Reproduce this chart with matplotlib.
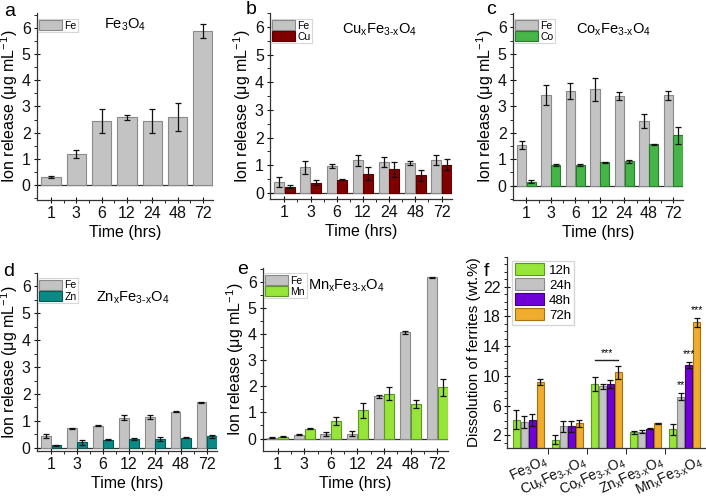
import numpy as np
import matplotlib
matplotlib.use("Agg")
import matplotlib.pyplot as plt
from matplotlib.ticker import MultipleLocator, FixedLocator

plt.rcParams['font.family'] = ['Liberation Sans', 'DejaVu Sans']
plt.rcParams['mathtext.fontset'] = 'custom'
plt.rcParams['mathtext.rm'] = 'Liberation Sans'
plt.rcParams['mathtext.it'] = 'Liberation Sans'

times = ["1", "3", "6", "12", "24", "48", "72"]

fe_a = [0.30, 1.20, 2.45, 2.58, 2.45, 2.60, 5.87]
fe_a_err = [0.03, 0.15, 0.45, 0.10, 0.45, 0.53, 0.27]

fe_b = [0.40, 0.92, 0.97, 1.18, 1.12, 1.07, 1.18]
fe_b_err = [0.17, 0.22, 0.08, 0.20, 0.17, 0.07, 0.18]
cu_b = [0.22, 0.37, 0.47, 0.70, 0.85, 0.64, 1.02]
cu_b_err = [0.06, 0.10, 0.02, 0.25, 0.28, 0.20, 0.20]

fe_c = [1.55, 3.42, 3.58, 3.65, 3.40, 2.45, 3.43]
fe_c_err = [0.15, 0.38, 0.30, 0.45, 0.15, 0.25, 0.17]
co_c = [0.15, 0.78, 0.78, 0.88, 0.92, 1.57, 1.90]
co_c_err = [0.07, 0.03, 0.03, 0.02, 0.05, 0.02, 0.32]

fe_d = [0.45, 0.72, 0.82, 1.12, 1.15, 1.34, 1.70]
fe_d_err = [0.08, 0.03, 0.02, 0.10, 0.08, 0.02, 0.02]
zn_d = [0.10, 0.20, 0.30, 0.33, 0.33, 0.38, 0.43]
zn_d_err = [0.02, 0.10, 0.01, 0.05, 0.07, 0.02, 0.06]

fe_e = [0.03, 0.15, 0.17, 0.18, 1.62, 4.08, 6.20]
fe_e_err = [0.01, 0.02, 0.07, 0.09, 0.05, 0.06, 0.02]
mn_e = [0.07, 0.38, 0.67, 1.08, 1.72, 1.33, 1.96]
mn_e_err = [0.02, 0.02, 0.15, 0.28, 0.25, 0.16, 0.32]

ferrites = [r"Fe$_3$O$_4$", r"Cu$_x$Fe$_{3\text{-}x}$O$_4$", r"Co$_x$Fe$_{3\text{-}x}$O$_4$",
            r"Zn$_x$Fe$_{3\text{-}x}$O$_4$", r"Mn$_x$Fe$_{3\text{-}x}$O$_4$"]
diss_labels = ["12h", "24h", "48h", "72h"]
d12 = [4.1, 1.4, 8.9, 2.4, 2.8]
d12_err = [1.3, 0.6, 0.9, 0.2, 0.7]
d24 = [3.8, 3.2, 8.6, 2.5, 7.2]
d24_err = [0.8, 0.7, 0.3, 0.2, 0.5]
d48 = [4.1, 3.2, 8.9, 2.9, 11.5]
d48_err = [0.8, 0.7, 0.5, 0.05, 0.4]
d72 = [9.2, 3.6, 10.5, 3.6, 17.2]
d72_err = [0.4, 0.5, 0.9, 0.05, 0.6]

GRAY = "#c3c3c3"; GRAY_E = "#8a8a8a"
CU = "#800000"; CO = "#45b548"; ZN = "#0a8a86"; MN = "#98e53a"
PURP = "#7000d8"; ORG = "#f0ac2c"

W, H = 706, 496
fig = plt.figure(figsize=(W/100, H/100), dpi=100)

def ax_px(l, t, r, b):
    return fig.add_axes([l/W, 1 - b/H, (r-l)/W, (b-t)/H])

def style(ax):
    for s in ["top", "right"]:
        ax.spines[s].set_visible(False)
    for s in ["left", "bottom"]:
        ax.spines[s].set_color("#333333")
        ax.spines[s].set_linewidth(0.9)
    ax.tick_params(axis="both", which="major", direction="inout", length=5, width=0.8,
                   labelsize=11.5, colors="#111111", pad=2)
    ax.tick_params(axis="both", which="minor", direction="out", length=2.5, width=0.6)

def ion_panel(ax, title, tpos, series, ylim):
    style(ax)
    x = np.arange(len(times))
    n = len(series)
    w = 0.8 / n
    handles = []
    for i, (vals, errs, col, ec, lab) in enumerate(series):
        pos = x - 0.4 + w/2 + i*w
        h = ax.bar(pos, vals, width=w*0.95, color=col, edgecolor=ec, linewidth=0.8, label=lab, zorder=2)
        ax.errorbar(pos, vals, yerr=errs, fmt="none", ecolor="#111111", elinewidth=0.9,
                    capsize=2, capthick=0.9, zorder=3)
        handles.append(h)
    ax.axhline(0, color="#333333", lw=0.9, zorder=1)
    ax.set_xticks(x)
    ax.set_xticklabels(times)
    ax.xaxis.set_minor_locator(FixedLocator(x[:-1] + 0.5))
    ax.set_xlim(-0.55, 6.4)
    ax.set_ylim(*ylim)
    ax.set_yticks(range(0, 7))
    ax.yaxis.set_minor_locator(MultipleLocator(0.5))
    ax.set_ylabel("Ion release (μg mL$^{-1}$)", fontsize=11.5, labelpad=1)
    ax.set_xlabel("Time (hrs)", fontsize=11.5, labelpad=3)
    ax.text(tpos[0], tpos[1], title, transform=ax.transAxes, ha="center", va="center", fontsize=10.5)
    leg = ax.legend(handles=handles, loc="upper left", bbox_to_anchor=(0.005, 0.97), fontsize=7.5,
                    frameon=True, fancybox=False, handlelength=2.2, handleheight=1.1,
                    borderpad=0.15, labelspacing=0.05, handletextpad=0.2, borderaxespad=0.0)
    leg.get_frame().set_edgecolor("#cccccc")
    leg.get_frame().set_linewidth(0.8)
    return ax

axa = ax_px(37, 13, 213, 200)
ion_panel(axa, r"Fe$_3$O$_4$", (0.5, 0.935), [(fe_a, fe_a_err, GRAY, GRAY_E, "Fe")], (-0.57, 6.57))
axb = ax_px(270, 13, 452, 199)
ion_panel(axb, r"Cu$_x$Fe$_{3\text{-}x}$O$_4$", (0.6, 0.91),
          [(fe_b, fe_b_err, GRAY, GRAY_E, "Fe"), (cu_b, cu_b_err, CU, "#5a0000", "Cu")], (-0.22, 6.5))
axc = ax_px(513, 13, 683, 200)
ion_panel(axc, r"Co$_x$Fe$_{3\text{-}x}$O$_4$", (0.59, 0.91),
          [(fe_c, fe_c_err, GRAY, GRAY_E, "Fe"), (co_c, co_c_err, CO, "#2a7a2d", "Co")], (-0.55, 6.55))
axd = ax_px(37, 273, 217, 451)
ion_panel(axd, r"Zn$_x$Fe$_{3\text{-}x}$O$_4$", (0.53, 0.86),
          [(fe_d, fe_d_err, GRAY, GRAY_E, "Fe"), (zn_d, zn_d_err, ZN, "#055a57", "Zn")], (-0.12, 6.5))
axe = ax_px(263, 268, 448, 451)
ion_panel(axe, r"Mn$_x$Fe$_{3\text{-}x}$O$_4$", (0.45, 0.9),
          [(fe_e, fe_e_err, GRAY, GRAY_E, "Fe"), (mn_e, mn_e_err, MN, "#5a9a20", "Mn")], (-0.48, 6.55))

for letter, (px, py) in zip("abcde", [(4, 11), (246, 10), (486, 10), (3, 271), (237, 270)]):
    fig.text(px/W, 1 - py/H, letter, fontsize=14, ha="left", va="center")

# panel f
axf = ax_px(507, 257, 706, 448)
style(axf)
xg = np.arange(len(ferrites))
w = 0.205
series_f = [(d12, d12_err, MN, "#5a9a20"), (d24, d24_err, GRAY, GRAY_E),
            (d48, d48_err, PURP, "#40007a"), (d72, d72_err, ORG, "#a87010")]
hs = []
for i, (vals, errs, col, ec) in enumerate(series_f):
    pos = xg - 0.41 + w/2 + i*w
    h = axf.bar(pos, vals, width=w*0.95, color=col, edgecolor=ec, linewidth=0.8,
                label=diss_labels[i], zorder=2)
    axf.errorbar(pos, vals, yerr=errs, fmt="none", ecolor="#111111", elinewidth=0.9,
                 capsize=2, capthick=0.9, zorder=3)
    hs.append(h)
axf.set_xlim(-0.55, 4.55)
axf.set_ylim(0.3, 26)
axf.set_yticks([2, 6, 10, 14, 18, 22])
axf.yaxis.set_minor_locator(MultipleLocator(1))
axf.set_xticks(xg + 0.38)
axf.set_xticklabels(ferrites, rotation=25, ha="right", rotation_mode="anchor", fontsize=10)
axf.xaxis.set_minor_locator(FixedLocator(xg[:-1] + 0.5))
axf.tick_params(axis="x", which="major", length=0, pad=4)
axf.tick_params(axis="x", which="minor", length=4)
axf.set_ylabel("Dissolution of ferrites (wt.%)", fontsize=11, labelpad=1)
leg = axf.legend(handles=hs, loc="upper left", bbox_to_anchor=(0.025, 0.98), fontsize=9.5,
                 frameon=True, fancybox=False, handlelength=2.2, handleheight=1.0,
                 borderpad=0.2, labelspacing=0.12, handletextpad=0.4, borderaxespad=0.0)
leg.get_frame().set_edgecolor("#cccccc")
# significance annotations
p12 = 2 - 0.41 + w/2
p72 = 2 - 0.41 + w/2 + 3*w
axf.plot([p12, p72], [12.2, 12.2], color="#222222", lw=1.0)
axf.text((p12 + p72)/2, 12.35, "***", ha="center", va="bottom", fontsize=7.5)
for i, lab in [(1, "**"), (2, "***"), (3, "***")]:
    pos = 4 - 0.41 + w/2 + i*w
    top = series_f[i][0][4] + series_f[i][1][4]
    axf.text(pos, top + 0.4, lab, ha="center", va="bottom", fontsize=7.5)
fig.text(484/W, 1 - 272/H, "f", fontsize=14, ha="left", va="center")

fig.savefig("out.png", dpi=100)
